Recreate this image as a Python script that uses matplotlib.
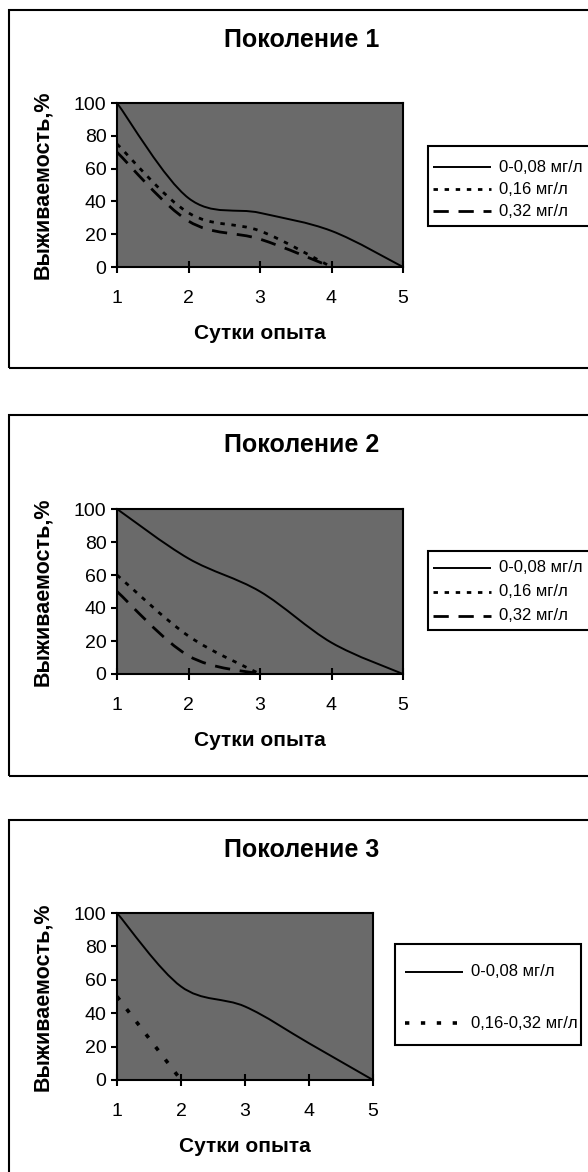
import matplotlib
matplotlib.use("Agg")
import matplotlib.pyplot as plt
from matplotlib.path import Path
from matplotlib.patches import PathPatch, Rectangle
from matplotlib.lines import Line2D

plt.rcParams['font.family'] = ['Liberation Sans', 'DejaVu Sans']

# ---------------- data ----------------
days = [1, 2, 3, 4, 5]
y_ticks = [0, 20, 40, 60, 80, 100]

titles = ["Поколение 1", "Поколение 2", "Поколение 3"]
y_label = "Выживаемость,%"
x_label = "Сутки опыта"

# Поколение 1
g1_labels = ["0-0,08 мг/л", "0,16 мг/л", "0,32 мг/л"]
g1_solid = [100, 42, 33, 22, 0]
g1_dot = [75, 33, 22, 0]
g1_dash = [70, 28, 17, 0]

# Поколение 2
g2_labels = ["0-0,08 мг/л", "0,16 мг/л", "0,32 мг/л"]
g2_solid = [100, 70, 50, 19, 0]
g2_dot = [60, 23, 0]
g2_dash = [50, 11, 0]

# Поколение 3
g3_labels = ["0-0,08 мг/л", "0,16-0,32 мг/л"]
g3_solid = [100, 56, 44, 22, 0]
g3_dot = [50, 0]

W, H = 588, 1172
fig = plt.figure(figsize=(W / 100, H / 100), dpi=100)

def fx(x):
    return x / W

def fy(y):
    return 1 - y / H

GRAY = "#6a6a6a"

def smooth_path(xs, ys):
    """Excel-like smoothed line rendered as cubic Bezier segments."""
    pts = list(zip(xs, ys))
    n = len(pts)
    if n == 2:
        return Path(pts, [Path.MOVETO, Path.LINETO])
    verts = [pts[0]]
    codes = [Path.MOVETO]
    for i in range(n - 1):
        p0 = pts[i - 1] if i > 0 else pts[i]
        p1 = pts[i]
        p2 = pts[i + 1]
        p3 = pts[i + 2] if i + 2 < n else pts[i + 1]
        c1 = (p1[0] + (p2[0] - p0[0]) / 6, p1[1] + (p2[1] - p0[1]) / 6)
        c2 = (p2[0] - (p3[0] - p1[0]) / 6, p2[1] - (p3[1] - p1[1]) / 6)
        verts += [c1, c2, p2]
        codes += [Path.CURVE4] * 3
    return Path(verts, codes)

STY = {
    "solid": dict(linestyle="-", linewidth=1.4),
    "dot": dict(linestyle=(0, (1.6, 2.4)), linewidth=2.0),
    "dash": dict(linestyle=(0, (5.5, 3.5)), linewidth=2.0),
    "dot3": dict(linestyle=(0, (1.2, 3.2)), linewidth=2.6),
}

def make_panel(frame_top, frame_bot, ax_box, title, series, labels, leg_box, leg_rows,
               handle_x, text_x, leg_styles):
    # outer chart frame
    fig.add_artist(Rectangle((fx(9), fy(frame_bot)), fx(600) - fx(9), fy(frame_top) - fy(frame_bot),
                             transform=fig.transFigure, fill=False, edgecolor="black",
                             linewidth=1.5))
    l, t, r, b = ax_box
    ax = fig.add_axes([fx(l), fy(b), fx(r) - fx(l), fy(t) - fy(b)])
    ax.set_facecolor(GRAY)
    ax.set_xlim(1, 5)
    ax.set_ylim(0, 100)
    ax.set_xticks(days)
    ax.set_yticks(y_ticks)
    for s in ax.spines.values():
        s.set_linewidth(1.5)
        s.set_color("black")
    ax.tick_params(axis="y", direction="out", length=4.5, width=1.5, labelsize=14, pad=3)
    ax.tick_params(axis="x", direction="inout", length=8.5, width=1.5, labelsize=14, pad=12)
    for key, ys in series:
        xs = days[:len(ys)]
        patch = PathPatch(smooth_path(xs, ys), fill=False, edgecolor="black",
                          capstyle="butt", **STY[key])
        patch.set_clip_on(True)
        ax.add_patch(patch)
    # title and axis labels
    fig.text(fx(302), fy(frame_top + 30), title, ha="center", va="center",
             fontsize=18, fontweight="bold")
    fig.text(fx(43), fy((t + b) / 2), y_label, ha="center", va="center", rotation=90,
             fontsize=15.5, fontweight="bold")
    fig.text(fx((l + r) / 2), fy(b + 66), x_label, ha="center", va="center",
             fontsize=15, fontweight="bold")
    # legend
    lx0, ly0, lx1, ly1 = leg_box
    fig.add_artist(Rectangle((fx(lx0), fy(ly1)), fx(lx1) - fx(lx0), fy(ly0) - fy(ly1),
                             transform=fig.transFigure, facecolor="white",
                             edgecolor="black", linewidth=1.5))
    for row_y, lab, key in zip(leg_rows, labels, leg_styles):
        fig.add_artist(Line2D([fx(handle_x[0]), fx(handle_x[1])], [fy(row_y), fy(row_y)],
                              transform=fig.transFigure, color="black",
                              solid_capstyle="butt", dash_capstyle="butt", **STY[key]))
        fig.text(fx(text_x), fy(row_y), lab, ha="left", va="center", fontsize=12,
                 family=['Liberation Sans Narrow', 'Liberation Sans', 'DejaVu Sans'])
    return ax

make_panel(10, 368, (117, 103, 403, 267), titles[0],
           [("solid", g1_solid), ("dot", g1_dot), ("dash", g1_dash)], g1_labels,
           (428, 146, 600, 226), [167, 189, 211], (433, 491), 499,
           ["solid", "dot", "dash"])

make_panel(415, 776, (117, 509, 403, 674), titles[1],
           [("solid", g2_solid), ("dot", g2_dot), ("dash", g2_dash)], g2_labels,
           (428, 551, 600, 630), [568, 592, 616], (433, 491), 499,
           ["solid", "dot", "dash"])

make_panel(820, 1190, (117, 913, 373, 1080), titles[2],
           [("solid", g3_solid), ("dot3", g3_dot)], g3_labels,
           (395, 944, 581, 1045), [972, 1023], (405, 463), 471,
           ["solid", "dot3"])

fig.savefig("out.png", dpi=100, facecolor="white")
